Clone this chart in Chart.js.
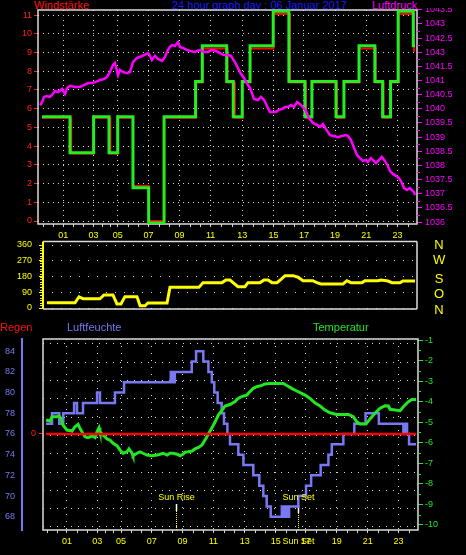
<!DOCTYPE html>
<html><head><meta charset="utf-8">
<script src="https://cdn.jsdelivr.net/npm/chart.js@4.4.1/dist/chart.umd.min.js"></script>
<style>
html,body{margin:0;padding:0;background:#000;width:466px;height:555px;overflow:hidden;position:relative;}
.t{position:absolute;font-family:'Liberation Sans',Arial,sans-serif;font-size:11px;line-height:12px;white-space:nowrap;}
.c{position:absolute;font-family:'Liberation Sans',Arial,sans-serif;font-size:13px;line-height:13px;width:12px;text-align:center;color:#ffff00;left:433px;}
.s{position:absolute;font-family:'Liberation Sans',Arial,sans-serif;font-size:9px;line-height:10px;white-space:nowrap;color:#ffff00;transform:translateX(-50%);}
canvas{position:absolute;left:0;}
</style></head><body>
<div class="t" style="left:34px;top:-1px;color:#ff1010">Windstärke</div>
<div class="t" style="left:172px;top:-1px;color:#1a1aff">24 hour graph day : 06 Januar 2017</div>
<div class="t" style="left:372px;top:-1px;color:#ff00ff">Luftdruck</div>
<canvas id="c1" width="466" height="232" style="top:8px"></canvas>
<canvas id="c2" width="466" height="80" style="top:238px"></canvas>
<div class="c" style="top:237.5px">N</div>
<div class="c" style="top:253px">W</div>
<div class="c" style="top:271.7px">S</div>
<div class="c" style="top:287.4px">O</div>
<div class="c" style="top:303.4px">N</div>
<div class="t" style="left:0px;top:320.5px;color:#ff1010">Regen</div>
<div class="t" style="left:67px;top:320.5px;color:#7878f0">Luftfeuchte</div>
<div class="t" style="left:313px;top:320.5px;color:#22e622">Temperatur</div>
<canvas id="c3" width="466" height="220" style="top:335px"></canvas>
<div class="s" id="sr" style="top:492px;left:176px">Sun Rise</div>
<div class="s" id="ss" style="top:492px;left:298px">Sun Set</div>
<div class="s" id="ss2" style="top:535.5px;left:298px">Sun Set</div>
<script>
// ---------- DATA ----------
const hourTicks  = [1.36, 3.32, 4.87, 6.85, 8.85, 10.85, 12.88, 14.89, 16.85, 18.85, 20.86, 22.86];
const hourLabels = ['01','03','05','07','09','11','13','15','17','19','21','23'];

const windTicks = [0,1,2,3,4,5,6,7,8,9,10,11];
const windStrength = [[0,5.57],[1.80,3.65],[3.32,5.57],[4.31,3.65],[4.87,5.57],[5.85,1.78],[6.86,-0.1],[7.85,5.57],[9.88,7.45],[10.31,9.36],[11.88,7.45],[12.30,5.57],[12.88,7.45],[13.38,9.36],[14.87,11.2],[15.88,7.45],[16.91,5.57],[17.36,7.45],[18.91,5.57],[19.42,7.45],[20.39,9.36],[21.41,7.45],[21.91,5.57],[22.42,7.45],[22.91,11.2],[23.88,9.36],[23.99,9.36]];
const windGust = [[0,5.52],[1.88,3.6],[3.33,5.52],[4.40,3.6],[4.88,5.52],[5.86,1.87],[6.87,0],[7.86,5.52],[9.89,7.40],[10.32,9.22],[11.93,7.40],[12.40,5.52],[12.89,7.40],[13.39,9.22],[14.88,11.06],[15.95,7.40],[16.98,5.52],[17.37,7.40],[18.97,5.52],[19.43,7.40],[20.40,9.22],[21.47,7.40],[21.97,5.52],[22.43,7.40],[22.92,11.06],[23.92,9.10],[23.99,9.10]];

const pressureTicks  = [1036,1036.5,1037,1037.5,1038,1038.5,1039,1039.5,1040,1040.5,1041,1041.5,1042,1042.5,1043,1043.5];
const pressureLabels = ['1036','1036.5','1037','1037.5','1038','1038.5','1039','1039.5','1040','1040.5','1041','1041.5','1043','1042.5','1043','1043.5'];
const pressure = [[-0.13,1040.13],[-0.06,1040.17],[0.06,1040.31],[0.13,1040.42],[0.32,1040.45],[0.51,1040.42],[0.64,1040.49],[0.84,1040.63],[1.03,1040.59],[1.29,1040.70],[1.48,1040.52],[1.61,1040.73],[1.80,1040.81],[2.12,1040.77],[2.44,1040.77],[2.70,1040.84],[2.96,1040.91],[3.22,1040.91],[3.47,1040.95],[3.73,1041.02],[3.99,1041.05],[4.18,1041.12],[4.37,1041.30],[4.57,1041.55],[4.69,1041.62],[4.89,1041.19],[5.02,1041.37],[5.21,1041.30],[5.47,1041.26],[5.66,1041.30],[5.85,1041.65],[6.11,1041.80],[6.30,1041.83],[6.56,1041.90],[6.82,1041.97],[6.95,1041.87],[7.07,1041.72],[7.27,1041.87],[7.46,1041.76],[7.72,1041.69],[7.91,1041.83],[8.10,1042.08],[8.23,1042.18],[8.36,1042.25],[8.55,1042.22],[8.75,1042.36],[8.87,1042.18],[9.07,1042.15],[9.32,1042.08],[9.52,1042.04],[9.84,1042.01],[10.16,1042.08],[10.42,1042.01],[10.68,1042.01],[10.93,1042.08],[11.19,1042.04],[11.45,1041.97],[11.70,1041.90],[11.96,1041.90],[12.15,1041.87],[12.41,1041.65],[12.60,1041.44],[12.80,1041.23],[12.99,1041.09],[13.18,1040.91],[13.38,1040.73],[13.50,1040.56],[13.63,1040.35],[13.89,1040.31],[14.08,1040.42],[14.28,1040.31],[14.41,1040.17],[14.53,1040.03],[14.66,1039.89],[14.86,1039.89],[15.05,1039.89],[15.24,1039.96],[15.43,1039.99],[15.63,1040.06],[15.82,1040.06],[16.01,1040.13],[16.21,1040.06],[16.40,1040.24],[16.59,1040.17],[16.78,1040.06],[16.98,1039.92],[17.17,1039.67],[17.43,1039.50],[17.68,1039.43],[17.88,1039.36],[18.07,1039.46],[18.26,1039.29],[18.52,1039.07],[18.78,1039.04],[19.04,1039.00],[19.29,1039.04],[19.55,1039.07],[19.68,1039.04],[19.87,1038.90],[20.00,1038.72],[20.13,1038.54],[20.26,1038.37],[20.45,1038.26],[20.64,1038.16],[20.84,1038.19],[20.96,1038.12],[21.16,1038.26],[21.29,1038.19],[21.48,1038.08],[21.67,1038.19],[21.86,1038.30],[22.06,1038.16],[22.25,1037.98],[22.38,1037.80],[22.57,1037.70],[22.77,1037.63],[22.96,1037.55],[23.15,1037.38],[23.28,1037.20],[23.47,1037.13],[23.67,1037.20],[23.79,1037.13],[23.92,1037.06],[23.99,1036.95]];

const windDirTicks = [0,90,180,270,360];
const windDir = [[0.06,30],[1.88,30],[2.14,63],[2.40,53],[3.50,53],[3.76,75],[4.34,75],[4.60,23],[4.86,23],[5.12,65],[5.90,65],[6.10,13],[6.42,13],[6.61,29],[7.85,29],[8.04,118],[9.92,118],[10.18,145],[11.41,145],[11.67,160],[11.93,160],[12.13,145],[12.45,122],[12.90,122],[13.10,145],[13.88,145],[14.14,160],[14.40,160],[14.66,145],[14.98,145],[15.24,164],[15.50,185],[16.02,185],[16.34,176],[16.67,156],[17.30,156],[17.57,145],[17.83,137],[19.26,137],[19.52,156],[19.78,145],[20.49,145],[20.69,156],[21.53,156],[21.73,160],[22.18,154],[22.44,145],[22.96,145],[23.15,154],[23.93,154]];

const humidityTicks = [68,70,72,74,76,78,80,82,84];
const humidity = [[0,77],[0.39,78],[0.86,77],[1.12,78],[1.82,79],[2.01,78],[2.40,79],[3.31,80],[3.50,79],[4.47,80],[5.06,81],[8.09,82],[8.15,81],[8.22,82],[8.28,81],[8.35,82],[9.45,83],[9.73,84],[10.20,83],[10.53,82],[10.75,81],[10.91,80],[11.13,79],[11.39,78],[11.54,77],[11.76,76],[11.93,75],[12.47,74],[12.80,73],[13.44,72],[13.83,71],[14.09,70],[14.31,69],[14.57,68],[15.29,69],[15.35,68],[15.41,69],[15.48,68],[15.54,69],[15.61,68],[15.67,69],[15.74,68],[15.76,69],[16.36,70],[16.86,71],[17.19,72],[17.81,73],[18.31,74],[18.53,75],[19.28,76],[19.99,77],[20.72,78],[21.58,77],[23.17,76],[23.24,77],[23.30,76],[23.37,77],[23.41,76],[23.54,75],[23.99,75]];

const temperatureTicks = [-1,-2,-3,-4,-5,-6,-7,-8,-9,-10];
const temperature = [[0,-4.89],[0.26,-4.94],[0.39,-4.73],[0.71,-4.73],[0.84,-4.70],[0.97,-4.81],[1.10,-5.14],[1.36,-5.38],[1.69,-5.43],[1.88,-5.22],[2.08,-5.10],[2.20,-5.30],[2.33,-5.46],[2.53,-5.71],[2.72,-5.75],[2.98,-5.67],[3.18,-5.75],[3.31,-5.46],[3.44,-5.27],[3.50,-5.46],[3.70,-5.62],[3.96,-5.82],[4.15,-5.87],[4.35,-6.03],[4.60,-6.14],[4.80,-6.35],[4.99,-6.51],[5.25,-6.44],[5.38,-6.30],[5.58,-6.51],[5.64,-6.63],[5.90,-6.51],[6.10,-6.44],[6.29,-6.51],[6.55,-6.60],[6.87,-6.63],[7.20,-6.60],[7.39,-6.56],[7.59,-6.51],[7.85,-6.60],[8.04,-6.51],[8.24,-6.51],[8.50,-6.56],[8.69,-6.63],[8.88,-6.56],[9.01,-6.46],[9.21,-6.44],[9.47,-6.40],[9.66,-6.30],[9.86,-6.24],[10.12,-6.11],[10.31,-5.87],[10.53,-5.57],[10.75,-5.28],[10.96,-4.99],[11.17,-4.65],[11.39,-4.45],[11.61,-4.21],[11.93,-4.14],[12.26,-3.99],[12.41,-3.87],[12.69,-3.75],[13.02,-3.68],[13.23,-3.51],[13.44,-3.35],[13.66,-3.27],[13.99,-3.21],[14.20,-3.14],[14.53,-3.11],[15.39,-3.11],[15.61,-3.21],[15.93,-3.35],[16.26,-3.48],[16.80,-3.68],[17.12,-3.84],[17.45,-4.07],[17.77,-4.21],[18.09,-4.41],[18.42,-4.54],[18.85,-4.62],[19.60,-4.62],[19.93,-4.73],[20.15,-4.98],[20.36,-5.09],[20.75,-5.09],[21.01,-4.84],[21.34,-4.55],[21.66,-4.32],[21.98,-4.20],[22.20,-4.21],[22.31,-4.37],[22.96,-4.44],[23.17,-4.25],[23.50,-4.00],[23.72,-3.89],[24.0,-3.89]];

const rainTicks = [0];
const rain = [[0,0],[24,0]];
const sunRise = 8.43;
const sunSet = 16.34;

// ---------- HELPERS ----------
const FONT = {family: "'Liberation Sans', Arial, sans-serif", size: 9};
const GRIDC = '#d6d6d6';
const toXY = a => a.map(p => ({x: p[0], y: p[1]}));
const setTicks = vals => a => { a.ticks = vals.map(v => ({value: v})); };
const fixW = w => a => { a.width = w; a.paddingTop = 0; a.paddingBottom = 0; };
const fixH = h => a => { a.height = h; a.paddingLeft = 0; a.paddingRight = 0; };
function minorHours(scale) {
  const t = hourTicks, out = [];
  for (let i = 0; i < t.length - 1; i++) { const s = (t[i+1] - t[i]) / 3; out.push(t[i] + s, t[i] + 2*s); }
  const s0 = (t[1] - t[0]) / 3; for (let v = t[0] - s0; v > scale.min; v -= s0) out.push(v);
  const s1 = (t[t.length-1] - t[t.length-2]) / 3; for (let v = t[t.length-1] + s1; v < scale.max; v += s1) out.push(v);
  return out;
}
function line(ctx, x1, y1, x2, y2, color, w) {
  ctx.save(); ctx.strokeStyle = color; ctx.lineWidth = w || 1;
  ctx.beginPath(); ctx.moveTo(x1, y1); ctx.lineTo(x2, y2); ctx.stroke(); ctx.restore();
}
function baseOpts(padding, scales) {
  return {
    responsive: false, animation: false, devicePixelRatio: 1, events: [],
    layout: {padding},
    plugins: {legend: {display: false}, tooltip: {enabled: false}},
    elements: {point: {radius: 0}, line: {tension: 0, borderJoinStyle: 'miter'}},
    scales
  };
}
function xAxis(min, max, h, dash, show) {
  return {type: 'linear', min, max, display: show, afterBuildTicks: setTicks(hourTicks), afterFit: fixH(h),
    ticks: {autoSkip: false, maxRotation: 0, color: '#ffff00', font: FONT, padding: 3, callback: (v, i) => hourLabels[i]},
    grid: {color: GRIDC, lineWidth: 1, tickLength: 3, tickColor: GRIDC},
    border: {display: false, dash}};
}

// ---------- CHART 1: wind strength + pressure ----------
new Chart(document.getElementById('c1'), {
  type: 'line',
  data: {datasets: [
    {data: toXY(pressure), yAxisID: 'yp', borderColor: '#ff00ff', borderWidth: 2.5},
    {data: toXY(windStrength), yAxisID: 'yw', borderColor: '#22ee22', borderWidth: 3, stepped: true},
    {data: toXY(windGust), yAxisID: 'yw', borderColor: '#ff0000', borderWidth: 2, stepped: true}
  ]},
  options: baseOpts({top: 2, left: 0, right: 0, bottom: 0}, {
    x: xAxis(-0.257, 24.12, 16, [1, 4], true),
    yw: {position: 'left', min: -0.16, max: 11.27, afterBuildTicks: setTicks(windTicks), afterFit: fixW(38),
      ticks: {autoSkip: false, color: '#ff2020', font: FONT, padding: 2, callback: (v, i) => String(windTicks[i])},
      grid: {color: GRIDC, tickLength: 4, tickColor: '#ff2020'}, border: {display: false, dash: [1, 4]}},
    yp: {position: 'right', min: 1035.93, max: 1043.49, afterBuildTicks: setTicks(pressureTicks), afterFit: fixW(49),
      ticks: {autoSkip: false, color: '#ff00ff', font: FONT, padding: 3, callback: (v, i) => pressureLabels[i]},
      grid: {drawOnChartArea: false, tickLength: 5, tickColor: '#ff00ff'}, border: {display: false}}
  }),
  plugins: [{
    id: 'decor1',
    beforeDatasetsDraw(chart) {
      const {ctx, chartArea: a} = chart;
      ctx.save(); ctx.strokeStyle = '#dcdcdc'; ctx.lineWidth = 1.5;
      ctx.strokeRect(a.left, a.top, a.right - a.left, a.bottom - a.top); ctx.restore();
      const xs = chart.scales.x;
      minorHours(xs).forEach(v => { const x = Math.round(xs.getPixelForValue(v)) + 0.5; line(ctx, x, a.bottom, x, a.bottom + 3, GRIDC, 1); });
      const yp = chart.scales.yp;
      for (let v = 1036.25; v < 1043.5; v += 0.5) { const y = Math.round(yp.getPixelForValue(v)) + 0.5; line(ctx, a.right, y, a.right + 3, y, '#ff00ff', 1); }
    }
  }]
});

// ---------- CHART 2: wind direction ----------
new Chart(document.getElementById('c2'), {
  type: 'line',
  data: {datasets: [
    {data: toXY(windDir), yAxisID: 'yd', borderColor: '#ffff00', borderWidth: 3}
  ]},
  options: baseOpts({top: 3.5, left: 0, right: 49, bottom: 9}, {
    x: {type: 'linear', min: -0.195, max: 24.06, display: false},
    yd: {position: 'left', min: -5.7, max: 380, afterBuildTicks: setTicks(windDirTicks), afterFit: fixW(43),
      ticks: {autoSkip: false, color: '#ffff00', font: FONT, padding: 7, callback: (v, i) => String(windDirTicks[i])},
      grid: {color: GRIDC, tickLength: 4, tickColor: '#ffff00'}, border: {display: false, dash: [1, 8]}}
  }),
  plugins: [{
    id: 'decor2',
    beforeDatasetsDraw(chart) {
      const {ctx, chartArea: a} = chart;
      line(ctx, a.left, a.top, a.right, a.top, '#dcdcdc', 1.5);
      line(ctx, a.right, a.top, a.right, a.bottom, '#dcdcdc', 1.5);
      line(ctx, a.left, a.bottom, a.right, a.bottom, '#dcdcdc', 1.5);
      line(ctx, a.left, a.top, a.left, a.bottom, '#ffff00', 2);
      const yd = chart.scales.yd;
      for (let v = 15; v < 375; v += 15) { const y = Math.round(yd.getPixelForValue(v)) + 0.5; line(ctx, a.left - 3, y, a.left, y, '#ffff00', 1); }
    }
  }]
});

// ---------- CHART 3: humidity, temperature, rain ----------
new Chart(document.getElementById('c3'), {
  type: 'line',
  data: {datasets: [
    {data: toXY(rain), yAxisID: 'yr', borderColor: '#ff0000', borderWidth: 2.5},
    {data: toXY(temperature), yAxisID: 'yt', borderColor: '#22e622', borderWidth: 3},
    {data: toXY(humidity), yAxisID: 'yh', borderColor: '#7878f0', borderWidth: 2.5, stepped: true}
  ]},
  options: baseOpts({top: 4, left: 0, right: 0, bottom: 0}, {
    x: xAxis(-0.195, 24.12, 25, [1, 6], true),
    yh: {position: 'left', weight: 2, min: 66.72, max: 85.18, afterBuildTicks: setTicks(humidityTicks), afterFit: fixW(22),
      ticks: {autoSkip: false, color: '#7878f0', font: FONT, padding: 7, callback: (v, i) => String(humidityTicks[i])},
      grid: {drawOnChartArea: false, drawTicks: false}, border: {display: true, color: '#7878f0', width: 2}},
    yr: {position: 'left', weight: 1, min: -9.28, max: 9.18, afterBuildTicks: setTicks(rainTicks), afterFit: fixW(21),
      ticks: {autoSkip: false, color: '#ff2020', font: FONT, padding: 3, callback: (v, i) => String(rainTicks[i])},
      grid: {drawOnChartArea: false, tickLength: 4, tickColor: '#ff2020'}, border: {display: false}},
    yg: {position: 'left', weight: 0, min: -0.164, max: 10.27, afterBuildTicks: setTicks([0,1,2,3,4,5,6,7,8,9,10]), afterFit: fixW(0),
      ticks: {display: false}, grid: {color: GRIDC, drawTicks: false}, border: {display: false, dash: [1, 6]}},
    yt: {position: 'right', min: -10.245, max: -0.95, afterBuildTicks: setTicks(temperatureTicks), afterFit: fixW(48),
      ticks: {autoSkip: false, color: '#22e622', font: FONT, padding: 2, callback: (v, i) => String(temperatureTicks[i])},
      grid: {drawOnChartArea: false, tickLength: 5, tickColor: '#22e622'}, border: {display: false}}
  }),
  plugins: [{
    id: 'decor3',
    beforeDatasetsDraw(chart) {
      const {ctx, chartArea: a} = chart;
      ctx.save(); ctx.strokeStyle = '#dcdcdc'; ctx.lineWidth = 1.5;
      ctx.strokeRect(a.left, a.top, a.right - a.left, a.bottom - a.top); ctx.restore();
      const xs = chart.scales.x;
      minorHours(xs).forEach(v => { const x = Math.round(xs.getPixelForValue(v)) + 0.5; line(ctx, x, a.bottom, x, a.bottom + 3, GRIDC, 1); });
      const yt = chart.scales.yt;
      for (let v = -1.5; v > -10.2; v -= 1) { const y = Math.round(yt.getPixelForValue(v)) + 0.5; line(ctx, a.right, y, a.right + 3, y, '#22e622', 1); }
      // sun markers
      const xr = Math.round(xs.getPixelForValue(sunRise)) + 0.5;
      const xsn = Math.round(xs.getPixelForValue(sunSet)) + 0.5;
      line(ctx, xr, a.bottom - 26, xr, a.bottom - 19, '#ffffff', 1.5);
      line(ctx, xsn, a.bottom - 25, xsn, a.bottom - 17, '#ffffff', 1.5);
      ctx.save(); ctx.setLineDash([1, 1]);
      line(ctx, xr, a.bottom - 19, xr, a.bottom, '#ffff00', 1);
      line(ctx, xsn, a.bottom - 17, xsn, a.bottom, '#ffff00', 1);
      ctx.restore();
      document.getElementById('sr').style.left = xr + 'px';
      document.getElementById('ss').style.left = xsn + 'px';
      document.getElementById('ss2').style.left = xsn + 'px';
    }
  }]
});
</script>
</body></html>
